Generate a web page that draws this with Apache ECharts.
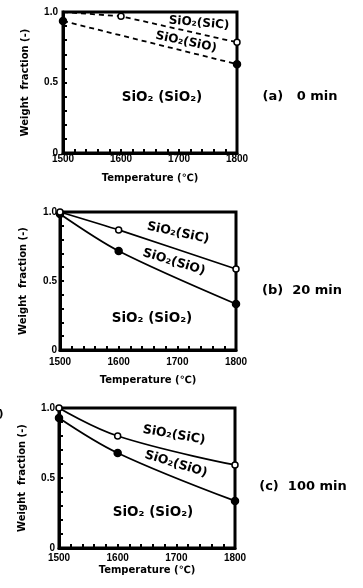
<!DOCTYPE html>
<html><head><meta charset="utf-8">
<script src="https://cdn.jsdelivr.net/npm/echarts@6/dist/echarts.min.js"></script>
<style>html,body{margin:0;padding:0;background:#fff}#c{width:363px;height:588px}</style>
</head><body><div id="c"></div>
<script>
// ---- data ----
const xTickLabels = ['1500', '1600', '1700', '1800'];
const yTickLabels = {0: '0', 0.5: '0.5', 1: '1.0'};
const tempA_SiC = [1500, 1600, 1800];
const fracA_SiC = [1.0, 0.97, 0.785];
const tempA_SiO = [1500, 1800];
const fracA_SiO = [0.936, 0.63];
const tempB = [1500, 1600, 1800];
const fracB_SiC = [1.0, 0.87, 0.587];
const fracB_SiO = [0.985, 0.717, 0.333];
const tempC = [1500, 1600, 1800];
const fracC_SiC = [1.0, 0.80, 0.593];
const fracC_SiO = [0.929, 0.679, 0.336];
const panelTitles = ['(a)   0 min', '(b)  20 min', '(c)  100 min'];
const regionLabels = ['SiO\u2082(SiC)', 'SiO\u2082(SiO)', 'SiO\u2082 (SiO\u2082)'];

// ---- layout ----
const F = 'DejaVu Sans';
const FT = 'Liberation Sans';
const grids = [
  {left: 63, top: 12, width: 174, height: 141, xMargin: 1, xGap: 20, yMargin: 5, yGap: 33},
  {left: 60, top: 212, width: 176, height: 138, xMargin: 7, xGap: 25, yMargin: 3, yGap: 32},
  {left: 59, top: 408, width: 176, height: 140, xMargin: 5, xGap: 17, yMargin: 4, yGap: 32}
];
function zip(xs, ys) { return xs.map((x, i) => [x, ys[i]]); }

const option = {
  animation: false,
  grid: grids.map(g => ({left: g.left, top: g.top, width: g.width, height: g.height,
    show: true, borderColor: '#000', borderWidth: 3, backgroundColor: 'transparent'})),
  xAxis: grids.map((g, i) => ({
    gridIndex: i, type: 'value', min: 1500, max: 1800, interval: 100,
    name: 'Temperature (\u2103)', nameLocation: 'middle', nameGap: g.xGap,
    nameTextStyle: {fontFamily: F, fontWeight: 'bold', fontSize: 10, color: '#000', verticalAlign: 'top'},
    axisLine: {show: true, lineStyle: {color: '#000', width: 3}},
    axisTick: {show: true, inside: true, length: 4, lineStyle: {color: '#000', width: 2}},
    minorTick: {show: true, splitNumber: 5, length: 4, lineStyle: {color: '#000', width: 2}},
    splitLine: {show: false},
    axisLabel: {margin: g.xMargin, fontFamily: FT, fontWeight: 'bold', fontSize: 10, color: '#000',
      formatter: v => xTickLabels[Math.round((v - 1500) / 100)]}
  })),
  yAxis: grids.map((g, i) => ({
    gridIndex: i, type: 'value', min: 0, max: 1, interval: 0.5,
    name: 'Weight  fraction (-)', nameLocation: 'middle', nameGap: g.yGap, nameRotate: 90,
    nameTextStyle: {fontFamily: F, fontWeight: 'bold', fontSize: 10, color: '#000', verticalAlign: 'bottom'},
    axisLine: {show: true, lineStyle: {color: '#000', width: 3}},
    axisTick: {show: true, inside: true, length: 4, lineStyle: {color: '#000', width: 2}},
    minorTick: {show: true, splitNumber: 5, length: 4, lineStyle: {color: '#000', width: 2}},
    splitLine: {show: false},
    axisLabel: {margin: g.yMargin, fontFamily: FT, fontWeight: 'bold', fontSize: 10, color: '#000',
      formatter: v => yTickLabels[v]}
  })),
  series: []
};

function addSeries(idx, xs, ys, filled, dashed, smooth, hideFirst) {
  const data = zip(xs, ys).map((p, j) => (hideFirst && j === 0) ? {value: p, symbol: 'none'} : p);
  option.series.push({
    type: 'line', xAxisIndex: idx, yAxisIndex: idx, data: data, smooth: smooth,
    symbol: 'circle', symbolSize: filled ? 7 : 6,
    itemStyle: {color: filled ? '#000' : '#fff', borderColor: '#000', borderWidth: 1.5},
    lineStyle: {color: '#000', width: 1.8, type: dashed ? [5, 4] : 'solid'},
    z: filled ? 3 : 4
  });
}
addSeries(0, tempA_SiC, fracA_SiC, false, true, false, true);
addSeries(0, tempA_SiO, fracA_SiO, true, true, false, false);
addSeries(1, tempB, fracB_SiC, false, false, 0.2, false);
addSeries(1, tempB, fracB_SiO, true, false, 0.3, false);
addSeries(2, tempC, fracC_SiC, false, false, 0.4, false);
addSeries(2, tempC, fracC_SiO, true, false, 0.35, false);

// text annotations
const deg = Math.PI / 180;
function txt(x, y, s, size, rot) {
  return {type: 'text', x: x, y: y, rotation: (rot || 0) * deg, z: 10,
    style: {text: s, font: 'bold ' + size + 'px "' + F + '"', fill: '#000', align: 'center', verticalAlign: 'middle'}};
}
option.graphic = [
  txt(199, 23, regionLabels[0], 12, -5), txt(186, 42, regionLabels[1], 12, -12),
  txt(162, 97, regionLabels[2], 13.5, 0), txt(300, 97, panelTitles[0], 13, 0),
  txt(178, 233, regionLabels[0], 12.5, -12), txt(174, 262, regionLabels[1], 12.5, -17),
  txt(152, 318, regionLabels[2], 13.5, 0), txt(302, 291, panelTitles[1], 13, 0),
  txt(174, 435, regionLabels[0], 12.5, -10), txt(176, 464, regionLabels[1], 12.5, -17),
  txt(153, 512, regionLabels[2], 13.5, 0), txt(303, 487, panelTitles[2], 13, 0),
  txt(1, 414, ')', 11, 0)
];

const chart = echarts.init(document.getElementById('c'), null, {renderer: 'canvas'});
chart.setOption(option);
</script></body></html>
